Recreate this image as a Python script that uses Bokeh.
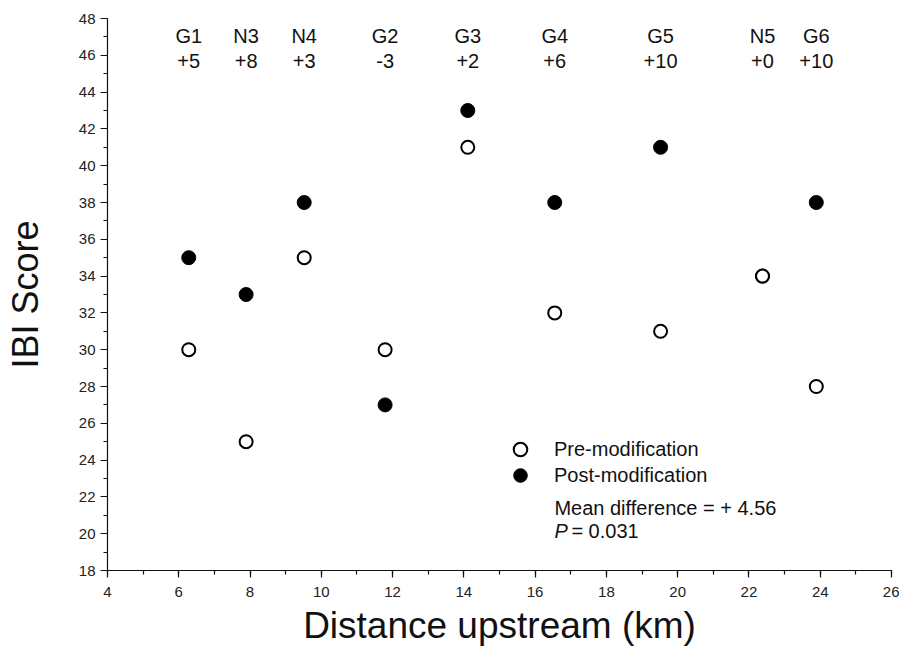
from bokeh.plotting import figure
from bokeh.models import (Range1d, SingleIntervalTicker, Legend, LegendItem, Label, ColumnDataSource)
from bokeh.core.properties import value
from bokeh.embed import file_html
from bokeh.resources import INLINE

# ---- data ----
sites = ["G1", "N3", "N4", "G2", "G3", "G4", "G5", "N5", "G6"]
distance_km = [6.28, 7.89, 9.52, 11.79, 14.11, 16.55, 19.52, 22.38, 23.89]
pre_ibi = [30, 25, 35, 30, 41, 32, 31, 34, 28]
post_ibi = [35, 33, 38, 27, 43, 38, 41, 34, 38]
diff_labels = ["+5", "+8", "+3", "-3", "+2", "+6", "+10", "+0", "+10"]
mean_diff_text = "Mean difference = + 4.56"
p_text = "= 0.031"

FONT = "Liberation Sans"
INK = "#111111"

p = figure(width=899, height=653, output_backend="svg", toolbar_location=None,
           x_range=Range1d(4, 26), y_range=Range1d(18, 48),
           min_border_left=107, min_border_right=8, min_border_top=18, min_border_bottom=83)
p.outline_line_color = None
p.xgrid.visible = False
p.ygrid.visible = False
p.background_fill_color = "white"

for ax in (p.xaxis[0], p.yaxis[0]):
    ax.axis_line_color = INK
    ax.axis_line_width = 1.2
    ax.major_tick_line_color = INK
    ax.minor_tick_line_color = INK
    ax.major_tick_line_width = 1.2
    ax.minor_tick_line_width = 1.2
    ax.major_tick_out = 7
    ax.major_tick_in = 0
    ax.minor_tick_out = 4
    ax.minor_tick_in = 0
    ax.major_label_text_font = FONT
    ax.major_label_text_font_size = "15px"
    ax.major_label_text_color = "#222222"
    ax.axis_label_text_font = FONT
    ax.axis_label_text_font_style = "normal"
    ax.axis_label_text_color = INK
    ax.ticker = SingleIntervalTicker(interval=2, num_minor_ticks=2)

p.xaxis.axis_label = "Distance upstream (km)"
p.yaxis.axis_label = "IBI Score"
p.xaxis.axis_label_text_font_size = "37px"
p.yaxis.axis_label_text_font_size = "36px"
p.xaxis.major_label_standoff = 9
p.xaxis.axis_label_standoff = 5
p.yaxis.major_label_standoff = 5
p.yaxis.axis_label_standoff = 30

src = ColumnDataSource(dict(x=distance_km, pre=pre_ibi, post=post_ibi,
                            site=sites, diff=diff_labels))

r_post = p.scatter("x", "post", source=src, size=14, marker="circle",
                   fill_color="black", line_color="black", line_width=1)
r_pre = p.scatter("x", "pre", source=src, size=13, marker="circle",
                  fill_color="white", line_color="black", line_width=2)

p.text("x", 48, text="site", source=src, text_font=value(FONT), text_font_size="20px",
       text_align="center", text_baseline="middle", y_offset=17, text_color=INK)
p.text("x", 48, text="diff", source=src, text_font=value(FONT), text_font_size="20px",
       text_align="center", text_baseline="middle", y_offset=42, text_color=INK)

def make_legend(label, renderer, loc):
    return Legend(items=[LegendItem(label=label, renderers=[renderer])],
                  location=loc, orientation="vertical",
                  glyph_width=34, glyph_height=34, padding=0, margin=0,
                  label_standoff=17, label_text_font=FONT, label_text_font_size="20px",
                  label_text_color=INK, border_line_color=None, background_fill_alpha=0)

p.add_layout(make_legend("Pre-modification", r_pre, (396, 104)), "center")
p.add_layout(make_legend("Post-modification", r_post, (396, 78)), "center")

p.add_layout(Label(x=16.54, y=21.42, text=mean_diff_text, text_font=FONT, text_font_size="20px",
                   text_baseline="middle", text_color=INK))
p.add_layout(Label(x=16.54, y=20.17, text="P", text_font=FONT, text_font_size="20px",
                   text_font_style="italic", text_baseline="middle", text_color=INK))
p.add_layout(Label(x=16.54, y=20.17, x_offset=17, text=p_text, text_font=FONT, text_font_size="20px",
                   text_baseline="middle", text_color=INK))

open("out.html", "w").write(file_html(p, INLINE))
